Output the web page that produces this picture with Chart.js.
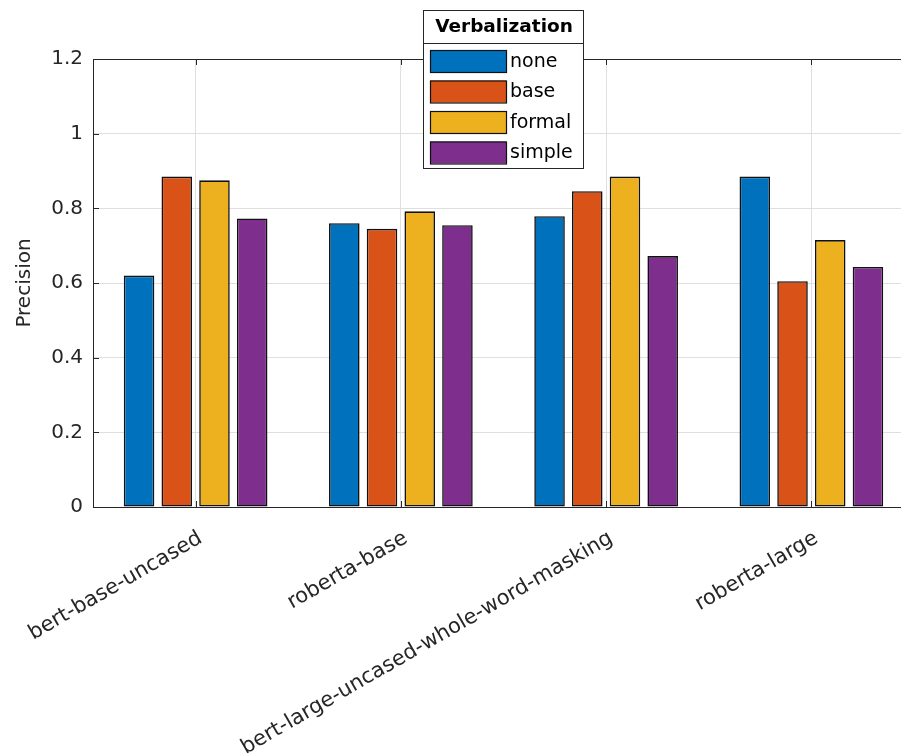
<!DOCTYPE html>
<html>
<head>
<meta charset="utf-8">
<script src="https://cdn.jsdelivr.net/npm/chart.js@4.4.0/dist/chart.umd.min.js"></script>
<style>
  html, body { margin: 0; padding: 0; background: #ffffff; overflow: hidden; width: 901px; height: 754px; }
  canvas { display: block; }
</style>
</head>
<body>
<canvas id="c" width="920" height="754"></canvas>
<script>
// ---- data ----
const categories = ['bert-base-uncased', 'roberta-base', 'bert-large-uncased-whole-word-masking', 'roberta-large'];
const seriesNames = ['none', 'base', 'formal', 'simple'];
const noneVals   = [0.620, 0.760, 0.779, 0.885];
const baseVals   = [0.885, 0.745, 0.846, 0.605];
const formalVals = [0.875, 0.792, 0.885, 0.715];
const simpleVals = [0.773, 0.755, 0.672, 0.643];
const yTicks = [0, 0.2, 0.4, 0.6, 0.8, 1, 1.2];
const legendTitle = 'Verbalization';
const yTitle = 'Precision';

const colors = ['#0072BD', '#D95319', '#EDB120', '#7E2F8E'];
const seriesVals = [noneVals, baseVals, formalVals, simpleVals];
const AXIS = '#262626';
const GRID = '#dfdfdf';
const FONT = '"DejaVu Sans", Arial, sans-serif';

// inward ticks + box
const boxPlugin = {
  id: 'boxPlugin',
  afterDatasetsDraw(chart) {
    const ctx = chart.ctx, a = chart.chartArea;
    const xs = chart.scales.x, ys = chart.scales.y;
    ctx.save();
    ctx.strokeStyle = AXIS;
    ctx.lineWidth = 1;
    ctx.beginPath();
    ctx.rect(Math.round(a.left) + 0.5, Math.round(a.top) + 0.5, Math.round(a.right - a.left), Math.round(a.bottom - a.top));
    ctx.stroke();
    const tl = 6;
    ctx.beginPath();
    ys.ticks.forEach((t, i) => {
      const y = Math.round(ys.getPixelForTick(i)) + 0.5;
      ctx.moveTo(a.left, y); ctx.lineTo(a.left + tl, y);
      ctx.moveTo(a.right, y); ctx.lineTo(a.right - tl, y);
    });
    xs.ticks.forEach((t, i) => {
      const x = Math.round(xs.getPixelForTick(i)) + 0.5;
      ctx.moveTo(x, a.bottom); ctx.lineTo(x, a.bottom - tl);
      ctx.moveTo(x, a.top); ctx.lineTo(x, a.top + tl);
    });
    ctx.stroke();
    ctx.restore();
  }
};

// MATLAB-like legend with title
const legendPlugin = {
  id: 'matLegend',
  afterDraw(chart) {
    const ctx = chart.ctx;
    const L = 423, T = 10, R = 583, B = 168, sep = 43;
    ctx.save();
    ctx.fillStyle = '#ffffff';
    ctx.fillRect(L, T, R - L, B - T);
    ctx.strokeStyle = AXIS;
    ctx.lineWidth = 1;
    ctx.strokeRect(L + 0.5, T + 0.5, R - L, B - T);
    ctx.beginPath();
    ctx.moveTo(L, sep + 0.5); ctx.lineTo(R, sep + 0.5);
    ctx.stroke();
    ctx.fillStyle = '#000000';
    ctx.font = 'bold 18.5px ' + FONT;
    ctx.textAlign = 'center';
    ctx.textBaseline = 'middle';
    ctx.fillText(legendTitle, (L + R) / 2 + 1, (T + sep) / 2 + 1);
    ctx.font = '19px ' + FONT;
    ctx.textAlign = 'left';
    chart.data.datasets.forEach((ds, i) => {
      const top = 50 + i * 30.5;
      ctx.fillStyle = ds.backgroundColor;
      ctx.fillRect(430, top, 76, 22);
      ctx.strokeStyle = '#111111';
      ctx.lineWidth = 1.2;
      ctx.strokeRect(430.5, top + 0.5, 76, 22);
      ctx.fillStyle = '#000000';
      ctx.fillText(ds.label, 510, top + 12);
    });
    ctx.restore();
  }
};

const datasets = seriesNames.map((n, i) => ({
  label: n,
  data: seriesVals[i],
  backgroundColor: colors[i],
  borderColor: '#111111',
  borderWidth: 1.6,
  borderSkipped: false,
  categoryPercentage: 0.735,
  barPercentage: 0.81
}));

new Chart(document.getElementById('c'), {
  type: 'bar',
  data: { labels: categories, datasets },
  options: {
    responsive: false,
    animation: false,
    devicePixelRatio: 1,
    layout: { padding: { left: 0, right: 6, top: 59, bottom: 0 } },
    plugins: { legend: { display: false }, tooltip: { enabled: false } },
    scales: {
      x: {
        offset: true,
        grid: { display: true, color: GRID, lineWidth: 1, drawTicks: false, offset: false },
        border: { display: false },
        ticks: {
          color: AXIS,
          font: { family: FONT, size: 21 },
          minRotation: 30, maxRotation: 30,
          padding: 19,
          labelOffset: 5,
          autoSkip: false
        },
        afterFit(s) { s.height = 754 - 507; s.paddingLeft = 0; s.paddingRight = 0; }
      },
      y: {
        min: 0, max: 1.2,
        afterBuildTicks(s) { s.ticks = yTicks.map(v => ({ value: v })); },
        grid: { display: true, color: GRID, lineWidth: 1, drawTicks: false },
        border: { display: false },
        ticks: {
          color: AXIS,
          font: { family: FONT, size: 20 },
          padding: 10,
          callback: v => String(v)
        },
        title: {
          display: true, text: yTitle, color: AXIS,
          font: { family: FONT, size: 20 },
          padding: { top: 13, bottom: 0 }
        },
        afterFit(s) { s.width = 93; }
      }
    }
  },
  plugins: [boxPlugin, legendPlugin]
});
</script>
</body>
</html>
